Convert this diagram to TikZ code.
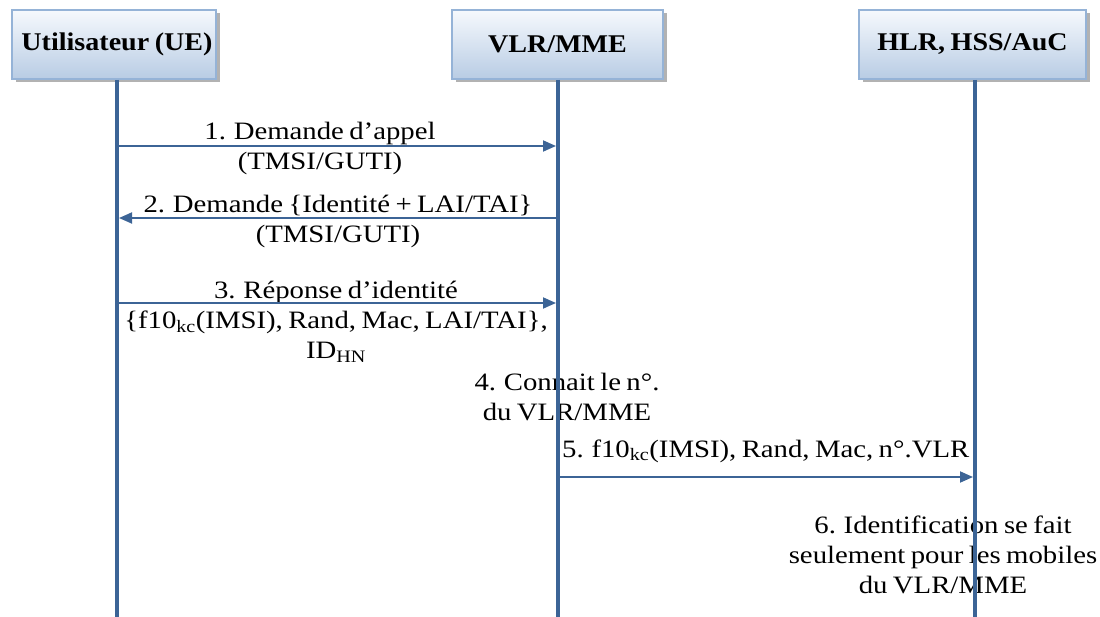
\documentclass[tikz,border=0pt]{standalone}
\usepackage{fontspec}
\setmainfont{Liberation Serif}[FakeStretch=1.15,WordSpace=0.75]
\newfontfamily\headfont{Liberation Serif}[FakeStretch=1.1,WordSpace=0.8]
\usetikzlibrary{arrows.meta,shadows}
\definecolor{lifeblue}{RGB}{60,100,150}
\definecolor{boxborder}{RGB}{149,179,215}
\definecolor{boxtop}{RGB}{246,249,253}
\definecolor{boxbottom}{RGB}{184,204,228}
\tikzset{
  actor/.style={draw=boxborder, line width=2pt, top color=boxtop, bottom color=boxbottom,
    minimum height=69pt, inner sep=0pt,
    drop shadow={shadow xshift=3.5pt, shadow yshift=-3.5pt, fill=gray!60, opacity=1},
    font=\headfont\bfseries\fontsize{25.5}{30}\selectfont},
  lifeline/.style={draw=lifeblue, line width=4.8pt},
  msg/.style={draw=lifeblue, line width=1.8pt, -{Triangle[length=13pt,width=11pt]}},
  lbl/.style={inner sep=0pt, align=center, font=\fontsize{25}{30}\selectfont}
}
\begin{document}
\begin{tikzpicture}[x=1pt,y=-1pt]
\useasboundingbox (0,0) rectangle (1100,617);
\clip (0,0) rectangle (1100,617);
% actor boxes
\node[actor, minimum width=204pt] (ue) at (114,44.5) {\hspace*{6pt}Utilisateur (UE)};
\node[actor, minimum width=211pt] (vlr) at (557.5,44.5) {VLR/MME};
\node[actor, minimum width=227pt] (hlr) at (972.5,44.5) {HLR, HSS/AuC};
% labels
\node[lbl] (t1) at (320,148) {1. Demande d’appel\\(TMSI/GUTI)};
\node[lbl] (t2) at (338,221) {2. Demande \{Identité + LAI/TAI\}\\(TMSI/GUTI)};
\node[lbl] (t3) at (336,322) {3. Réponse d’identité\\\{f10\textsubscript{kc}(IMSI), Rand, Mac, LAI/TAI\},\\ID\textsubscript{HN}};
\node[lbl] (t4) at (567,397) {4. Connait le n°.\\du VLR/MME};
\node[lbl, anchor=base west] (t5) at (562,457) {5. f10\textsubscript{kc}(IMSI), Rand, Mac, n°.VLR};
\node[lbl] (t6) at (943,555) {6. Identification se fait\\seulement pour les mobiles\\du VLR/MME};
% lifeline ends
\coordinate (ueEnd) at (117,617);
\coordinate (vlrEnd) at (558,617);
\coordinate (hlrEnd) at (975,617);
\draw[lifeline] (ue.south -| ueEnd) -- (ueEnd);
\draw[lifeline] (vlr.south -| vlrEnd) -- (vlrEnd);
\draw[lifeline] (hlr.south -| hlrEnd) -- (hlrEnd);
% message anchor points
\coordinate (ue1) at (117,146);  \coordinate (vlr1) at (556,146);
\coordinate (vlr2) at (558,218); \coordinate (ue2) at (119,218);
\coordinate (ue3) at (117,303);  \coordinate (vlr3) at (556,303);
\coordinate (vlr5) at (558,477); \coordinate (hlr5) at (973,477);
\draw[msg] (ue1) -- (vlr1);
\draw[msg] (vlr2) -- (ue2);
\draw[msg] (ue3) -- (vlr3);
\draw[msg] (vlr5) -- (hlr5);
\end{tikzpicture}
\end{document}
